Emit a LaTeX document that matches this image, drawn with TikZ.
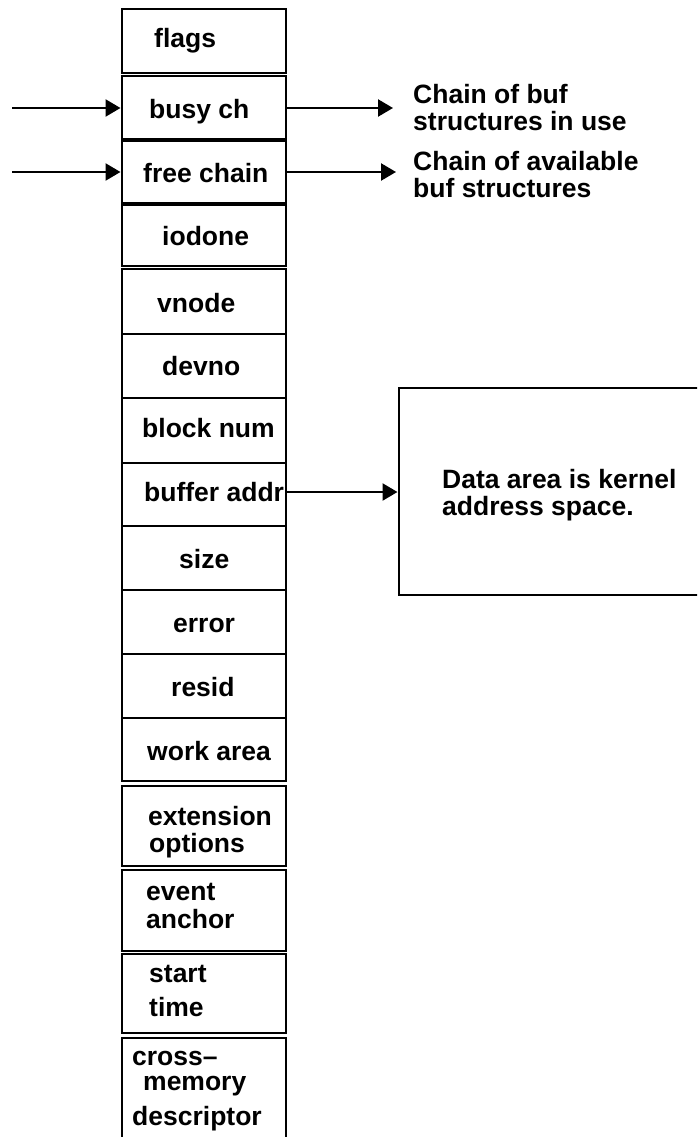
\documentclass[tikz,border=0pt]{standalone}
\usepackage{fontspec}
\setmainfont{Liberation Sans}
\usetikzlibrary{arrows.meta}
\tikzset{
  field/.style={draw, line width=2.4pt, minimum width=164pt, inner sep=0pt, anchor=north west},
  lbl/.style={anchor=base west, inner sep=0pt, font=\fontsize{26.5}{27}\selectfont\bfseries},
  arr/.style={line width=2.4pt, -{Triangle[length=15pt,width=17pt]}},
}
\newcommand{\fieldbox}[3]{%
  \node[field, minimum height={#3-#2}] (#1) at (120.5,#2) {};}
\begin{document}
\begin{tikzpicture}[x=1pt,y=-1pt]
\useasboundingbox (0,0) rectangle (697,1137);
\clip (0,0) rectangle (697,1137);
% the buf structure, one box per field
\fieldbox{flags}{8}{72}
\fieldbox{busy}{75}{138}
\fieldbox{free}{140}{202}
\fieldbox{iodone}{204}{265}
\fieldbox{vnode}{268}{333}
\fieldbox{devno}{333}{397}
\fieldbox{block}{397}{462}
\fieldbox{buffer}{462}{525}
\fieldbox{size}{525}{589}
\fieldbox{error}{589}{653}
\fieldbox{resid}{653}{717}
\fieldbox{work}{717}{780}
\fieldbox{ext}{785}{865}
\fieldbox{event}{869}{950}
\fieldbox{start}{953}{1032}
\fieldbox{cross}{1037}{1160}
% field names
\node[lbl] (t-flags) at (154,48) {flags};
\node[lbl] (t-busy) at (149,119) {busy ch};
\node[lbl] (t-free) at (143,182) {free chain};
\node[lbl] (t-iodone) at (162,245) {iodone};
\node[lbl] (t-vnode) at (157,312) {vnode};
\node[lbl] (t-devno) at (162,375) {devno};
\node[lbl] (t-block) at (142,437) {block num};
\node[lbl] (t-buffer) at (144,501) {buffer addr};
\node[lbl] (t-size) at (179,568) {size};
\node[lbl] (t-error) at (173,632) {error};
\node[lbl] (t-resid) at (171,696) {resid};
\node[lbl] (t-work) at (147,760) {work area};
\node[lbl] (t-ext1) at (148,825) {extension};
\node[lbl] (t-ext2) at (149,852) {options};
\node[lbl] (t-event1) at (146,900) {event};
\node[lbl] (t-event2) at (146,928) {anchor};
\node[lbl] (t-start1) at (149,982) {start};
\node[lbl] (t-start2) at (149,1016) {time};
\node[lbl] (t-cross1) at (132,1065) {cross–};
\node[lbl] (t-cross2) at (143,1090) {memory};
\node[lbl] (t-cross3) at (132,1125) {descriptor};
% data area box
\node[draw, line width=2.4pt, anchor=north west, inner sep=0pt,
      minimum width=320pt, minimum height=207pt] (data) at (397.5,387) {};
\node[lbl] (t-data1) at (442,488) {Data area is kernel};
\node[lbl] (t-data2) at (442,515) {address space.};
% chain descriptions
\node[lbl] (t-busyd1) at (413,104) {Chain of buf};
\node[lbl] (t-busyd2) at (413,131) {structures in use};
\node[lbl] (t-freed1) at (413,170) {Chain of available};
\node[lbl] (t-freed2) at (413,197) {buf structures};
% chain pointers
\coordinate (inBusy) at (12,108);
\coordinate (inFree) at (12,172);
\coordinate (outBusy) at (393,108);
\coordinate (outFree) at (396,172);
\draw[arr] (inBusy) -- (busy.west |- inBusy);
\draw[arr] (inFree) -- (free.west |- inFree);
\draw[arr] (busy.east |- outBusy) -- (outBusy);
\draw[arr] (free.east |- outFree) -- (outFree);
\draw[arr] (buffer.east |- 0,492) -- (data.west |- 0,492);
\end{tikzpicture}
\end{document}
